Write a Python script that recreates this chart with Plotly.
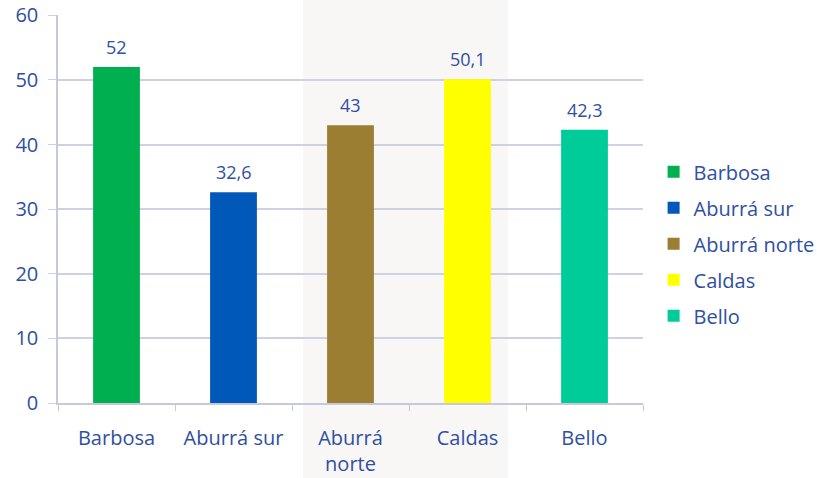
import plotly.graph_objects as go

categories = ["Barbosa", "Aburrá sur", "Aburrá norte", "Caldas", "Bello"]
tick_labels = ["Barbosa", "Aburrá sur", "Aburrá<br>norte", "Caldas", "Bello"]
values = [52, 32.6, 43, 50.1, 42.3]
colors = ["#00B050", "#0058B8", "#9C7E33", "#FFFF00", "#00CC99"]

text_color = "#2E4FA3"
font = "Open Sans, Noto Sans, sans-serif"

fig = go.Figure()
for cat, lab, val, col in zip(categories, tick_labels, values, colors):
    fig.add_trace(go.Bar(
        x=[lab], y=[val], name=cat, marker_color=col, width=0.4,
        marker_line_width=0, legendgroup=cat,
    ))
    # value label above the bar
    fig.add_annotation(x=lab, y=val, text=str(val).replace(".", ","),
                       showarrow=False, yshift=20,
                       font=dict(color=text_color, size=18, family=font))

# shaded band behind the middle categories
fig.add_shape(type="rect", xref="paper", yref="paper",
              x0=0.419, x1=0.769, y0=-0.25, y1=1.1,
              fillcolor="#F8F7F5", line_width=0, layer="below")

fig.update_layout(
    width=817, height=478,
    margin=dict(l=58, r=174, t=15, b=75),
    paper_bgcolor="white", plot_bgcolor="rgba(0,0,0,0)",
    barmode="relative",
    font=dict(family=font, color=text_color, size=20),
    showlegend=True,
    legend=dict(xref="container", yref="container", x=0.80, y=0.49,
                xanchor="left", yanchor="middle",
                font=dict(size=20, color=text_color),
                tracegroupgap=7, itemwidth=30),
)
fig.update_xaxes(
    automargin=False,
    tickfont=dict(size=20, color=text_color),
    showline=True, linecolor="#C8C8DC", linewidth=1.5,
    ticks="outside", tickson="boundaries", tickcolor="#C8C8DC", ticklen=6,
    ticklabelstandoff=16,
    showgrid=False,
)
fig.update_yaxes(
    automargin=False,
    range=[0, 60.05], tickvals=[0, 10, 20, 30, 40, 50, 60],
    tickfont=dict(size=20, color=text_color),
    showgrid=True, gridcolor="#D0D0E4", gridwidth=1.5,
    showline=True, linecolor="#C8C8DC", linewidth=1.5,
    ticks="outside", tickcolor="#D0D0E4", ticklen=8,
    ticklabelstandoff=6,
    zeroline=False,
)

fig.write_html("out.html", config={"displayModeBar": False},
               post_script="document.body.style.margin='0px';")
